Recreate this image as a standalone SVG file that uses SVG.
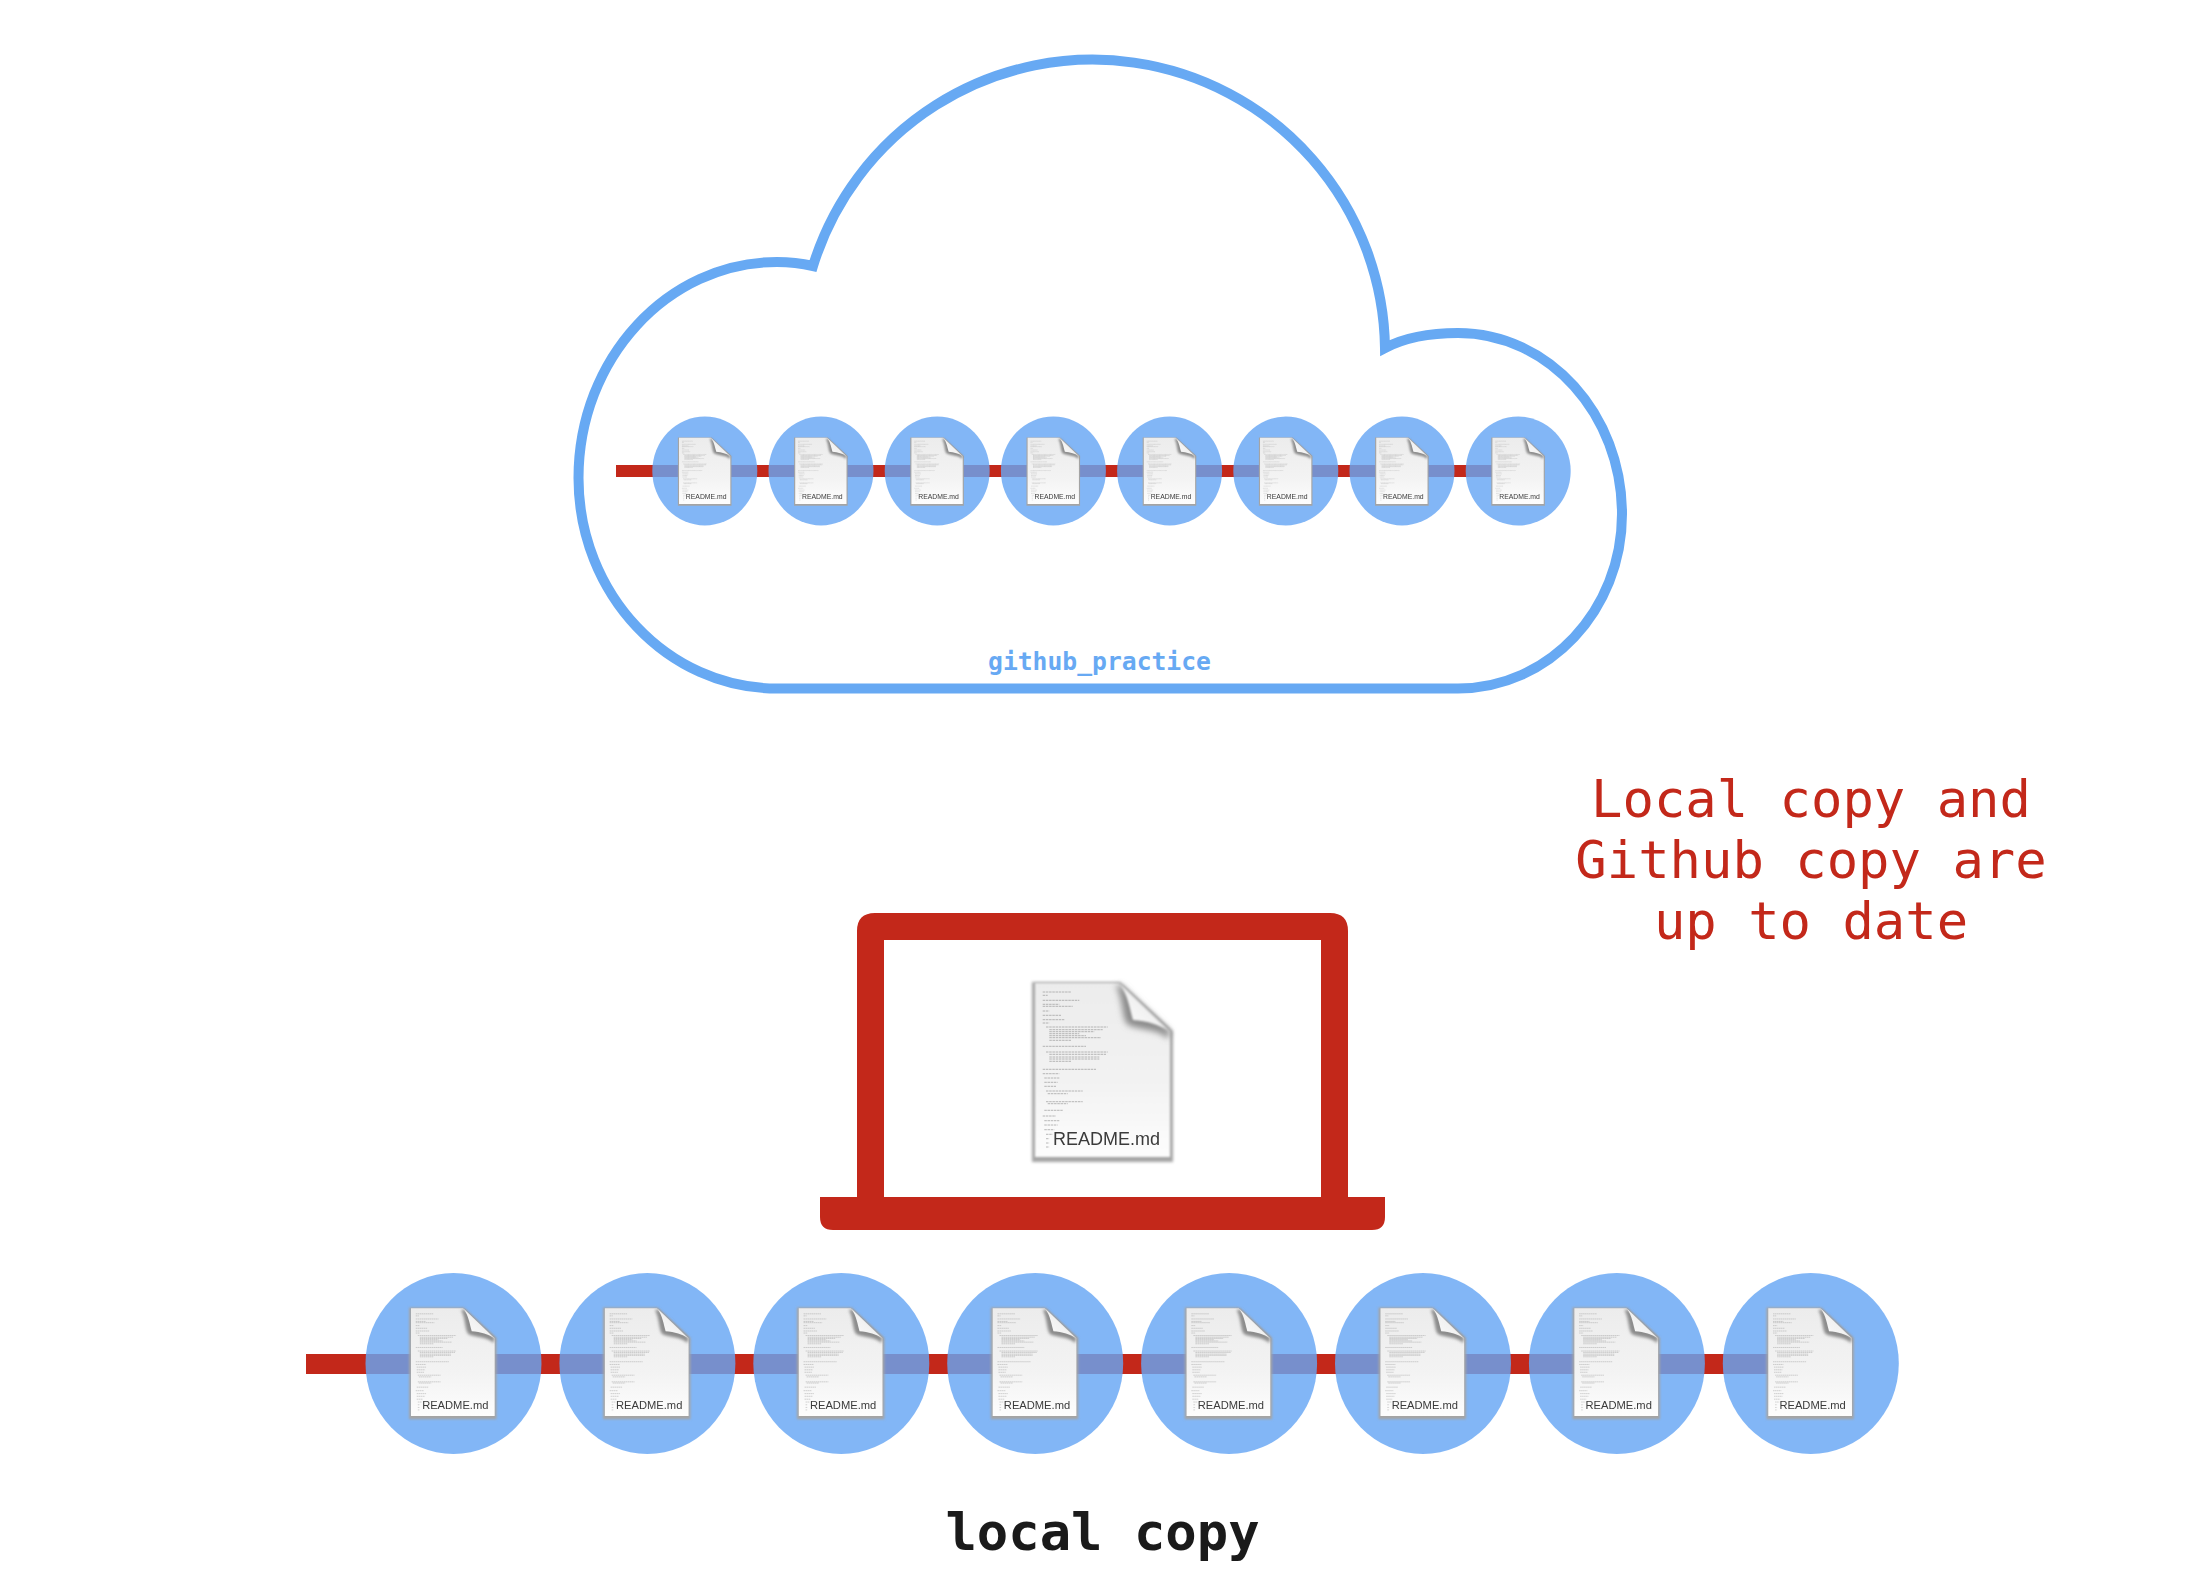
<svg xmlns="http://www.w3.org/2000/svg" width="2198" height="1574" viewBox="0 0 2198 1574">
<style>
.mono{font-family:"DejaVu Sans Mono","Liberation Mono",monospace;text-anchor:middle}
.note{font-size:52.2px;fill:#c3281a}
.fn{font-family:"Liberation Sans",Arial,sans-serif;font-size:18px;fill:#3a3a3a;filter:url(#soft)}
.big{fill:#67a6f4;fill-opacity:.82}
.bar{fill:#c3281a}
</style>
<defs>
<filter id="soft" x="-10%" y="-10%" width="120%" height="120%"><feGaussianBlur stdDeviation="0.4"/></filter>
<filter id="blur" x="-10%" y="-10%" width="120%" height="120%"><feGaussianBlur stdDeviation="1.6"/></filter>
<filter id="blur2" x="-10%" y="-10%" width="120%" height="120%"><feGaussianBlur stdDeviation="0.9"/></filter>
<filter id="blur3" x="-20%" y="-20%" width="140%" height="140%"><feGaussianBlur stdDeviation="3"/></filter>
<linearGradient id="page" x1="0" y1="0" x2="0" y2="1"><stop offset="0" stop-color="#ececec"/><stop offset=".6" stop-color="#f3f3f3"/><stop offset="1" stop-color="#fdfdfd"/></linearGradient>
<linearGradient id="flap" x1="0" y1="1" x2="1" y2="0"><stop offset="0" stop-color="#fcfcfc"/><stop offset=".55" stop-color="#f0f0f0"/><stop offset="1" stop-color="#c4c4c4"/></linearGradient>
<g id="doc">
<path d="M1 1H89L142 50V181H1Z" fill="#a4a4a4" filter="url(#blur)"/>
<path d="M4 2H88L139 50V176H4Z" fill="url(#page)" filter="url(#blur2)"/>
<path d="M11.7 11H40M11.7 14.3H16.7M11.7 19.3H48.3M11.7 23.3H28.3M11.7 25.3H41.7M11.7 30H18.3M11.7 34.3H30M11.7 38.7H33.3M11.7 42H18.3M15 46H76.7M18.3 48.7H71.7M18.3 50.7H63.3M18.3 52.7H48.3M18.3 54.7H55M18.3 56.7H70M18.3 59.3H40M11.7 65.3H55M15 71H76.7M18.3 73.3H75M18.3 76H68.3M18.3 78H68.3M18.3 80.3H40M11.7 88.3H65M11.7 92.7H28.3M13.3 97H28.3M13.3 101.3H26.7M13.3 105.3H25M15 110H51.7M16.7 112.7H36.7M15 120.7H51.7M16.7 122.7H36.7M13.3 129.3H31.7M11.7 135H25M13.3 139.7H28.3M13.3 144H26.7M13.3 148.7H23.3M15 153.3H21.7M15 157.7H18.3M15 162H18.3M15 166H18.3" fill="none" stroke="#949494" stroke-width=".65" stroke-dasharray="2.5 .7"/>
<path d="M85 5C92 18 91 37 96 43C104 49 127 47 137 58L139 50L90 4Z" fill="#8c8c8c" filter="url(#blur3)"/>
<path d="M89 3C97 14 99 29 102 39C116 40 130 44 138 50Z" fill="url(#flap)" filter="url(#blur2)"/>
</g>
</defs>

<g id="cloud"><path d="M777 688.5C667.6 688.5 578.5 594 578.5 478C578.5 358.7 667.6 262 777 262C790 262 802 263.500 813 266A292.500 292.500 0 0 1 1385 348C1404 338 1430 333 1458 333C1548.800 333 1622 414.600 1622 514C1622 610.400 1548.800 688.500 1458 688.500Z" fill="#fff" stroke="#67a9f3" stroke-width="10"/></g>

<g id="connectors">
<rect id="remote-history" class="bar" x="616" y="465" width="902" height="12"/>
<rect id="local-history" class="bar" x="306" y="1354" width="1505" height="20"/>
</g>

<g id="remote-commits">
<g id="remote-1"><ellipse class="big" cx="704.8" cy="471" rx="52.5" ry="54.5"/><g transform="translate(677.500 437) scale(.38)"><use href="#doc"/><text class="fn" x="22" y="164">README.md</text></g></g>
<g id="remote-2"><ellipse class="big" cx="821" cy="471" rx="52.5" ry="54.5"/><g transform="translate(793.700 437) scale(.38)"><use href="#doc"/><text class="fn" x="22" y="164">README.md</text></g></g>
<g id="remote-3"><ellipse class="big" cx="937.2" cy="471" rx="52.5" ry="54.5"/><g transform="translate(909.900 437) scale(.38)"><use href="#doc"/><text class="fn" x="22" y="164">README.md</text></g></g>
<g id="remote-4"><ellipse class="big" cx="1053.4" cy="471" rx="52.5" ry="54.5"/><g transform="translate(1026.100 437) scale(.38)"><use href="#doc"/><text class="fn" x="22" y="164">README.md</text></g></g>
<g id="remote-5"><ellipse class="big" cx="1169.6" cy="471" rx="52.5" ry="54.5"/><g transform="translate(1142.300 437) scale(.38)"><use href="#doc"/><text class="fn" x="22" y="164">README.md</text></g></g>
<g id="remote-6"><ellipse class="big" cx="1285.8" cy="471" rx="52.5" ry="54.5"/><g transform="translate(1258.500 437) scale(.38)"><use href="#doc"/><text class="fn" x="22" y="164">README.md</text></g></g>
<g id="remote-7"><ellipse class="big" cx="1402" cy="471" rx="52.5" ry="54.5"/><g transform="translate(1374.700 437) scale(.38)"><use href="#doc"/><text class="fn" x="22" y="164">README.md</text></g></g>
<g id="remote-8"><ellipse class="big" cx="1518.2" cy="471" rx="52.5" ry="54.5"/><g transform="translate(1490.900 437) scale(.38)"><use href="#doc"/><text class="fn" x="22" y="164">README.md</text></g></g>
</g>
<text id="cloud-label" class="mono" x="1099.500" y="670" font-size="24.7" font-weight="700" fill="#67a9f3">github_practice</text>

<g id="note"><text class="mono note" x="1811" y="817">Local copy and</text><text class="mono note" x="1811" y="877.500">Github copy are</text><text class="mono note" x="1811" y="938.500">up to date</text></g>

<g id="laptop">
<path d="M857 1197V931Q857 913 875 913H1330Q1348 913 1348 931V1197H1385V1217Q1385 1230 1372 1230H833Q820 1230 820 1217V1197ZM884 940V1197H1321V940Z" fill="#c3281a" fill-rule="evenodd"/>
<g transform="translate(1031 981)"><use href="#doc"/><text class="fn" x="22" y="164">README.md</text></g>
</g>

<g id="local-commits">
<g id="local-1"><ellipse class="big" cx="453.5" cy="1363.5" rx="88" ry="90.5"/><g transform="translate(408.500 1307) scale(.62)"><use href="#doc"/><text class="fn" x="22" y="164">README.md</text></g></g>
<g id="local-2"><ellipse class="big" cx="647.4" cy="1363.5" rx="88" ry="90.5"/><g transform="translate(602.400 1307) scale(.62)"><use href="#doc"/><text class="fn" x="22" y="164">README.md</text></g></g>
<g id="local-3"><ellipse class="big" cx="841.3" cy="1363.5" rx="88" ry="90.5"/><g transform="translate(796.300 1307) scale(.62)"><use href="#doc"/><text class="fn" x="22" y="164">README.md</text></g></g>
<g id="local-4"><ellipse class="big" cx="1035.2" cy="1363.5" rx="88" ry="90.5"/><g transform="translate(990.200 1307) scale(.62)"><use href="#doc"/><text class="fn" x="22" y="164">README.md</text></g></g>
<g id="local-5"><ellipse class="big" cx="1229.1" cy="1363.5" rx="88" ry="90.5"/><g transform="translate(1184.100 1307) scale(.62)"><use href="#doc"/><text class="fn" x="22" y="164">README.md</text></g></g>
<g id="local-6"><ellipse class="big" cx="1423" cy="1363.5" rx="88" ry="90.5"/><g transform="translate(1378 1307) scale(.62)"><use href="#doc"/><text class="fn" x="22" y="164">README.md</text></g></g>
<g id="local-7"><ellipse class="big" cx="1616.9" cy="1363.5" rx="88" ry="90.5"/><g transform="translate(1571.900 1307) scale(.62)"><use href="#doc"/><text class="fn" x="22" y="164">README.md</text></g></g>
<g id="local-8"><ellipse class="big" cx="1810.8" cy="1363.5" rx="88" ry="90.5"/><g transform="translate(1765.800 1307) scale(.62)"><use href="#doc"/><text class="fn" x="22" y="164">README.md</text></g></g>
</g>
<text id="local-label" class="mono" x="1102.5" y="1550" font-size="52.2" font-weight="700" fill="#1a1a1a">local copy</text>
</svg>
